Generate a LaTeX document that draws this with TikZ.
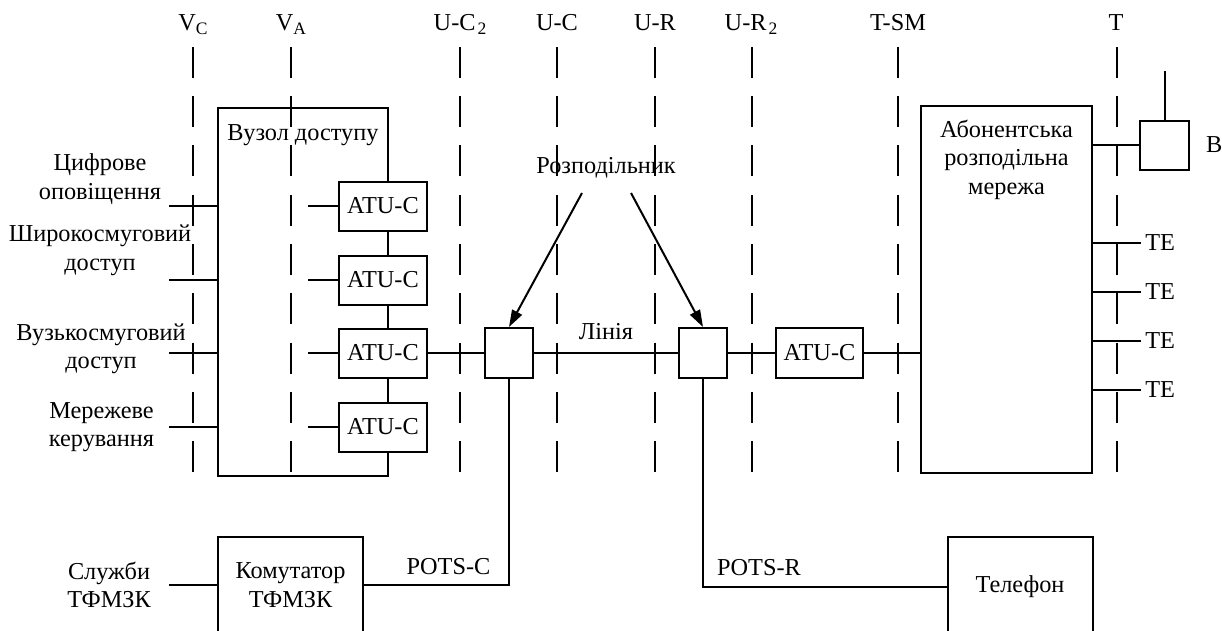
\documentclass[tikz,border=0pt]{standalone}
\usepackage{fontspec}
\setmainfont{Liberation Serif}
\usetikzlibrary{arrows.meta}
\newcommand\mysub[1]{\raisebox{-0.3ex}{\fontsize{17.5}{17.5}\selectfont #1}}
\begin{document}
\begin{tikzpicture}[x=1pt,y=-1pt,
  font=\fontsize{24.3}{28.5}\selectfont,
  line width=2pt,
  box/.style={draw, inner sep=0pt, line width=2pt},
  refline/.style={line width=2pt, dash pattern=on 31pt off 18.25pt},
  arr/.style={-{Triangle[length=17pt,width=11pt]}},
  lab/.style={align=center, inner sep=0pt},
  toplab/.style={anchor=base, inner sep=0pt}]
\clip (0,0) rectangle (1222,631);

% reference planes
\node[toplab] (lvc) at (193,31) {V\mysub{C}};
\node[toplab] (lva) at (291,31) {V\mysub{A}};
\node[toplab] (luc2) at (460,31) {U-C\hspace{2pt}\mysub{2}};
\node[toplab] (luc) at (557,31) {U-C};
\node[toplab] (lur) at (655,31) {U-R};
\node[toplab] (lur2) at (751,31) {U-R\hspace{2pt}\mysub{2}};
\node[toplab] (ltsm) at (898,31) {T-SM};
\node[toplab] (lt) at (1116,31) {T};
\foreach \x in {193,291,460,557,655,752,898,1117}
  \draw[refline] (\x,47) -- (\x,472);

% access node
\node[box, minimum width=170pt, minimum height=368pt,
  label={[anchor=north, yshift=-17pt, inner sep=0pt]north:Вузол доступу}] (vuzol) at (303,292) {};
\node[box, fill=white, minimum width=88pt, minimum height=49pt] (atu1) at (383,206) {ATU-C};
\node[box, fill=white, minimum width=88pt, minimum height=49pt] (atu2) at (383,280) {ATU-C};
\node[box, fill=white, minimum width=88pt, minimum height=49pt] (atu3) at (383,353) {ATU-C};
\node[box, fill=white, minimum width=88pt, minimum height=49pt] (atu4) at (383,427) {ATU-C};

% splitters and remote
\node[box, minimum width=48pt, minimum height=50pt] (sp1) at (509,353) {};
\node[box, minimum width=48pt, minimum height=50pt] (sp2) at (703,353) {};
\node[box, minimum width=87pt, minimum height=50pt] (atur) at (819.5,353) {ATU-C};
\node[box, minimum width=171pt, minimum height=367pt,
  label={[anchor=north, yshift=-14pt, inner sep=0pt, align=center]north:Абонентська\\розподільна\\мережа}] (abon) at (1006.5,289.5) {};
\node[box, minimum width=49pt, minimum height=49pt] (bbox) at (1164.5,145.5) {};
\node[anchor=west, inner sep=0pt] (blab) at (1205,145) {B};

% bottom boxes
\node[box, minimum width=145pt, minimum height=96pt, align=center] (kom) at (290.5,585) {Комутатор\\ТФМЗК};
\node[box, minimum width=145pt, minimum height=100pt] (tel) at (1020,586.5) {Телефон};

% left labels
\node[lab] (l1) at (100,179) {Цифрове\\оповіщення};
\node[lab] (l2) at (100,250.5) {Широкосмуговий\\доступ};
\node[lab] (l3) at (101,349) {Вузькосмуговий\\доступ};
\node[lab] (l4) at (101.5,427) {Мережеве\\керування};
\node[lab] (l5) at (109,585) {Служби\\ТФМЗК};

% other labels
\node (rozp) at (606,168) {Розподільник};
\node (linia) at (606,332) {Лінія};
\node (potsc) at (448.5,567) {POTS-C};
\node (potsr) at (759,568) {POTS-R};

% inputs to access node
\coordinate (i1) at (169,206);
\coordinate (i2) at (169,280);
\coordinate (i3) at (169,353);
\coordinate (i4) at (169,427);
\coordinate (i5) at (169,585);
\draw (i1) -- (i1 -| vuzol.west);
\draw (i2) -- (i2 -| vuzol.west);
\draw (i3) -- (i3 -| vuzol.west);
\draw (i4) -- (i4 -| vuzol.west);
\draw (i5) -- (kom.west);

\coordinate (a1) at (308,206);
\coordinate (a2) at (308,280);
\coordinate (a3) at (308,353);
\coordinate (a4) at (308,427);
\draw (a1) -- (atu1.west);
\draw (a2) -- (atu2.west);
\draw (a3) -- (atu3.west);
\draw (a4) -- (atu4.west);

% line
\draw (atu3.east) -- (sp1.west);
\draw (sp1.east) -- (sp2.west);
\draw (sp2.east) -- (atur.west);
\draw (atur.east) -- (atur.east -| abon.west);

% POTS
\draw (sp1.south) |- (kom.east);
\draw (sp2.south) |- (tel.west);

% splitter arrows
\coordinate (r1) at (582,193);
\coordinate (r2) at (631,193);
\draw[arr] (r1) -- (sp1.north);
\draw[arr] (r2) -- (sp2.north);

% customer side
\draw (abon.east |- bbox.west) -- (bbox.west);
\coordinate (ant) at (1164.5,71);
\draw (bbox.north) -- (ant);
\node[anchor=west] (te1) at (1141,243) {TE};
\node[anchor=west] (te2) at (1141,292) {TE};
\node[anchor=west] (te3) at (1141,341) {TE};
\node[anchor=west] (te4) at (1141,390) {TE};
\draw (abon.east |- te1.west) -- (te1.west);
\draw (abon.east |- te2.west) -- (te2.west);
\draw (abon.east |- te3.west) -- (te3.west);
\draw (abon.east |- te4.west) -- (te4.west);
\end{tikzpicture}
\end{document}
